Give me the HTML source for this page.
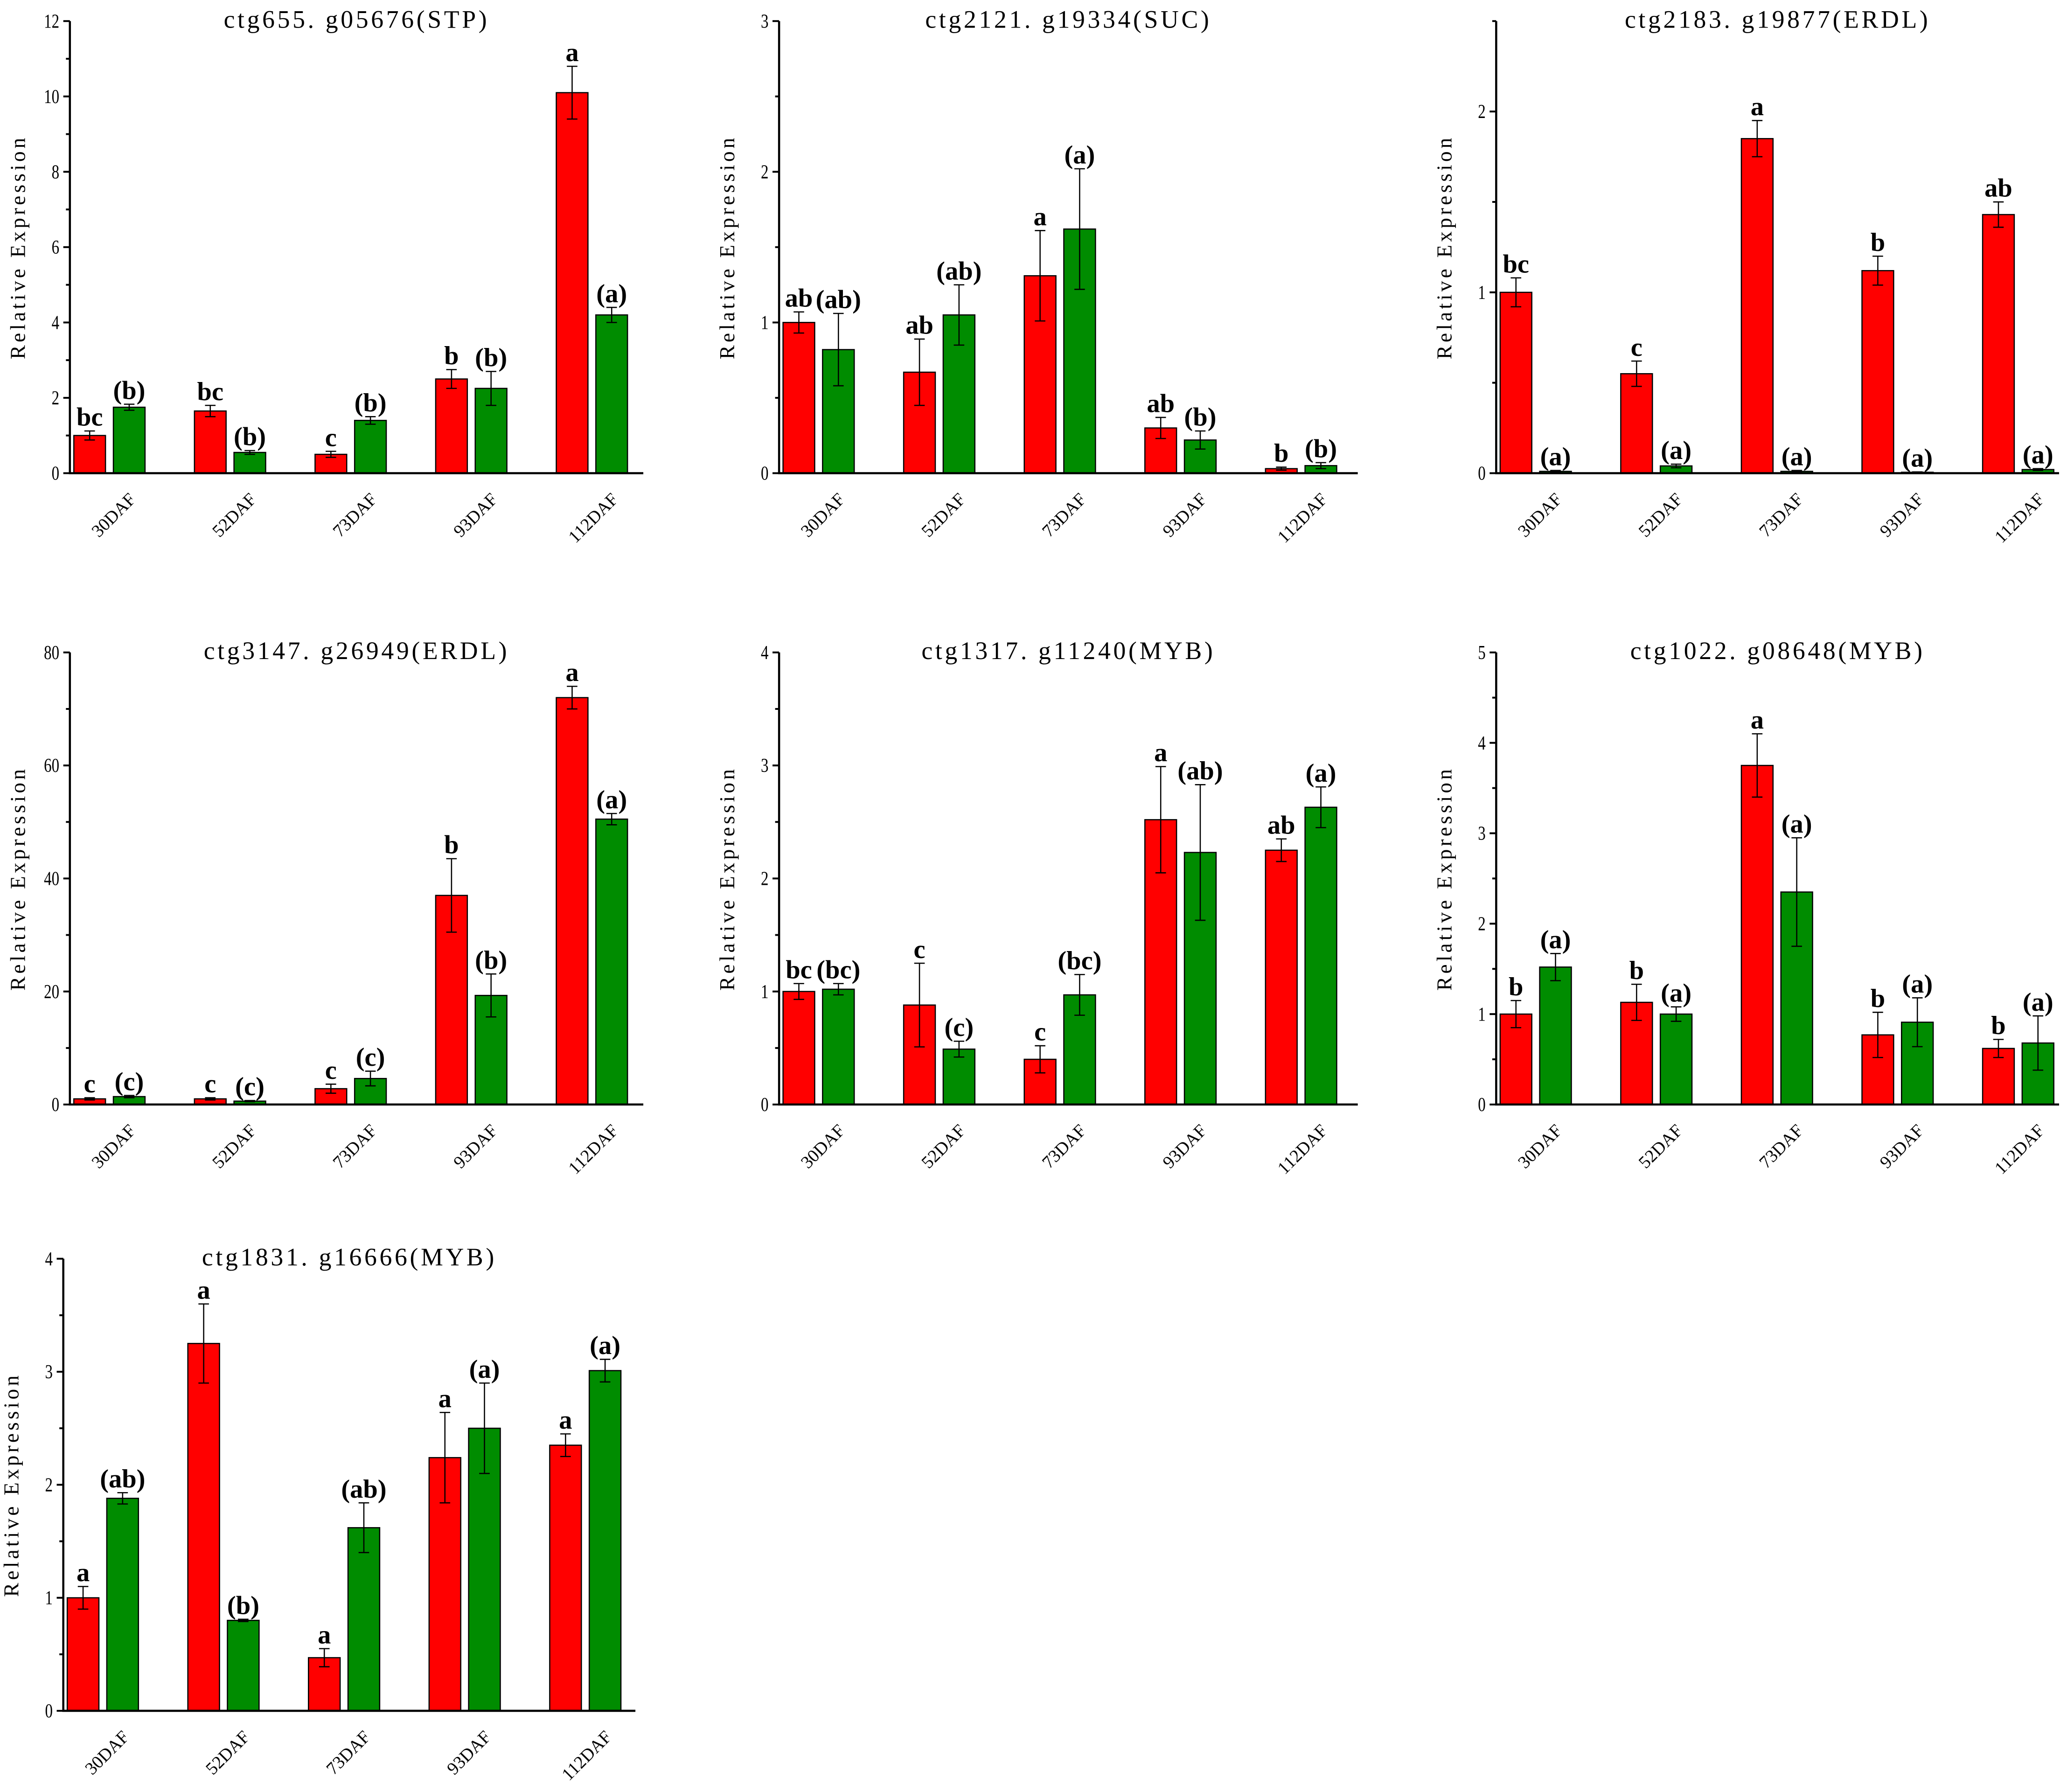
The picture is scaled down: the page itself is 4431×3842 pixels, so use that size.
<!DOCTYPE html>
<html><head><meta charset="utf-8"><style>
html,body{margin:0;padding:0;background:#fff;}
svg{display:block;}
</style></head><body>
<svg id="fig" xmlns="http://www.w3.org/2000/svg" width="4431" height="3842" viewBox="0 0 1568 1359.6">
<rect width="1568" height="1359.6" fill="#fff"/>
</svg>
<script>
const categories = ["30DAF","52DAF","73DAF","93DAF","112DAF"];
const titles = ["ctg655. g05676(STP)","ctg2121. g19334(SUC)","ctg2183. g19877(ERDL)","ctg3147. g26949(ERDL)","ctg1317. g11240(MYB)","ctg1022. g08648(MYB)","ctg1831. g16666(MYB)"];
const redValues = [[1.0,1.65,0.5,2.5,10.1],[1.0,0.67,1.31,0.3,0.03],[1.0,0.55,1.85,1.12,1.43],[1.0,1.0,2.8,37,72],[1.0,0.88,0.4,2.52,2.25],[1.0,1.13,3.75,0.77,0.62],[1.0,3.25,0.47,2.24,2.35]];
const redErrors = [[0.12,0.15,0.08,0.25,0.7],[0.07,0.22,0.3,0.07,0.01],[0.08,0.07,0.1,0.08,0.07],[0.2,0.2,0.8,6.5,2],[0.07,0.37,0.12,0.47,0.1],[0.15,0.2,0.35,0.25,0.1],[0.1,0.35,0.08,0.4,0.1]];
const greenValues = [[1.75,0.55,1.4,2.25,4.2],[0.82,1.05,1.62,0.22,0.05],[0.01,0.04,0.01,0.005,0.02],[1.4,0.6,4.6,19.3,50.5],[1.02,0.49,0.97,2.23,2.63],[1.52,1.0,2.35,0.91,0.68],[1.88,0.8,1.62,2.5,3.01]];
const greenErrors = [[0.08,0.05,0.1,0.45,0.2],[0.24,0.2,0.4,0.06,0.02],[0.005,0.01,0.005,0.002,0.005],[0.2,0.1,1.3,3.8,1],[0.05,0.07,0.18,0.6,0.18],[0.15,0.08,0.6,0.27,0.3],[0.05,0.01,0.22,0.4,0.1]];
const redLetters = [["bc","bc","c","b","a"],["ab","ab","a","ab","b"],["bc","c","a","b","ab"],["c","c","c","b","a"],["bc","c","c","a","ab"],["b","b","a","b","b"],["a","a","a","a","a"]];
const greenLetters = [["(b)","(b)","(b)","(b)","(a)"],["(ab)","(ab)","(a)","(b)","(b)"],["(a)","(a)","(a)","(a)","(a)"],["(c)","(c)","(c)","(b)","(a)"],["(bc)","(c)","(bc)","(ab)","(a)"],["(a)","(a)","(a)","(a)","(a)"],["(ab)","(b)","(ab)","(a)","(a)"]];
const yMax = [12,3,2.5,80,4,5,4];
const yStep = [2,1,1,20,1,1,1];

const layout = [
 {x0:53,x1:488,yb:359,yt:16},{x0:591,x1:1030,yb:359,yt:16},{x0:1135,x1:1562,yb:359,yt:16},
 {x0:53,x1:488,yb:838,yt:495},{x0:591,x1:1030,yb:838,yt:495},{x0:1135,x1:1562,yb:838,yt:495},
 {x0:48,x1:482,yb:1298,yt:955}];

const NS="http://www.w3.org/2000/svg";
const svg=document.getElementById('fig');
function mk(tag,attrs,parent){const e=document.createElementNS(NS,tag);for(const k in attrs)e.setAttribute(k,attrs[k]);(parent||svg).appendChild(e);return e;}
const SERIF='"Liberation Serif", "Noto Serif CJK SC", serif';

titles.forEach((t,p)=>{
  const L=layout[p];
  const g=mk('g',{});
  
  
  const yScale=v=>L.yb-(v/yMax[p])*(L.yb-L.yt);
  const xCenter=i=>L.x0+30+i*91.5;
  const tt=mk('text',{x:(L.x0+L.x1)/2,y:L.yt+5,'text-anchor':'middle','font-family':SERIF,'font-size':19,'letter-spacing':2,fill:'#000'},g);
  tt.textContent=t;
  
  
  const yc=(L.yb+L.yt)/2, yx=L.x0-34;
  const yt=mk('text',{x:yx,y:yc,transform:`rotate(-90 ${yx} ${yc})`,'text-anchor':'middle','font-family':SERIF,'font-size':16,'letter-spacing':2.2,fill:'#000'},g);
  yt.textContent='Relative Expression';
  
  
  for(let i=0;i<categories.length;i++){
    const c=xCenter(i);
    [[redValues,redErrors,redLetters,'#ff0000',-27,'red'],[greenValues,greenErrors,greenLetters,'#008c00',3,'green']].forEach(s=>{
      const v=s[0][p][i], e=s[1][p][i];
      const top=yScale(v);
      const r=mk('rect',{x:c+s[4],y:top,width:24,height:Math.max(L.yb-top,0.5),fill:s[3],stroke:'#000','stroke-width':0.9},g);
      
      
      const bx=c+s[4]+12, eT=yScale(v+e), eB=yScale(Math.max(v-e,0));
      const eb=mk('path',{d:`M${bx} ${eT}V${eB}M${bx-4} ${eT}H${bx+4}M${bx-4} ${eB}H${bx+4}`,stroke:'#000','stroke-width':0.9,fill:'none'},g);
      
      
      const lt=mk('text',{x:bx,y:eT-4,'text-anchor':'middle','font-family':SERIF,'font-size':20,'font-weight':'bold',fill:'#000'},g);
      lt.textContent=s[2][p][i];
      
      
    });
    const lx=c+14, ly=L.yb+14;
    const xl=mk('text',{x:lx,y:ly,transform:`rotate(-45 ${lx} ${ly})`,'text-anchor':'end','dominant-baseline':'hanging','font-family':SERIF,'font-size':13.5,fill:'#000'},g);
    xl.textContent=categories[i];
    
    
  }
  const ax=mk('path',{d:`M${L.x0} ${L.yt}V${L.yb}H${L.x1}`,stroke:'#000','stroke-width':1.6,fill:'none'},g);
  
  
  for(let v=0;v<=yMax[p]+1e-9;v+=yStep[p]/2){
    const major=Math.abs(v/yStep[p]-Math.round(v/yStep[p]))<1e-6;
    const y=yScale(v);
    mk('line',{x1:L.x0-(major?5:3),x2:L.x0,y1:y,y2:y,stroke:'#000','stroke-width':1.4},g);
    if(major){
      const tl=mk('text',{x:0,y:0,'text-anchor':'end','font-family':SERIF,'font-size':15,fill:'#000',transform:`translate(${L.x0-8} ${y+5}) scale(0.78 1)`},g);
      tl.textContent=String(Math.round(v*10)/10);
      
      
    }
  }
});
</script>
</body></html>
